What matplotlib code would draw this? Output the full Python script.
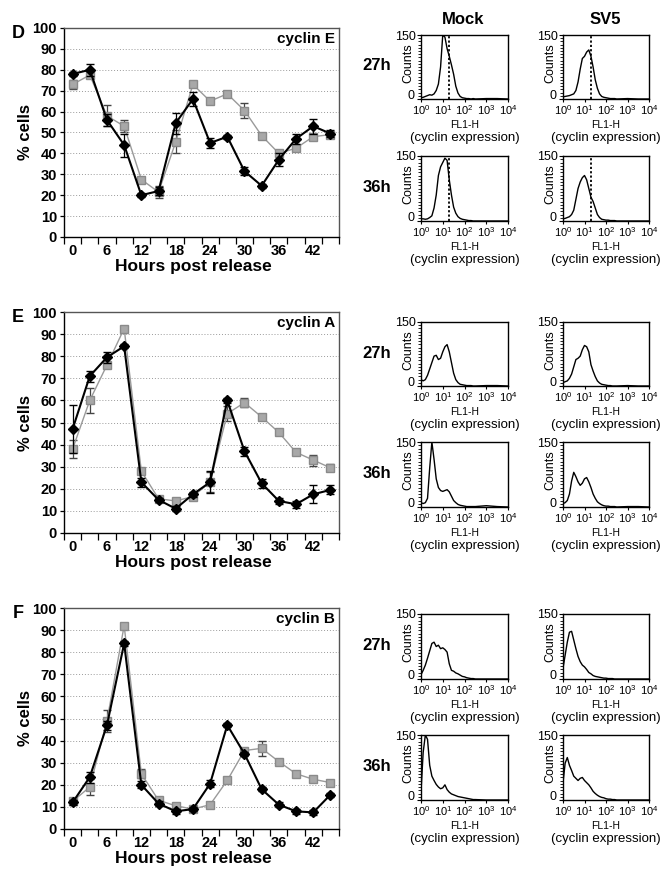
import matplotlib
matplotlib.use('Agg')
import matplotlib.pyplot as plt
import matplotlib.transforms as mtransforms
import numpy as np
from matplotlib.ticker import MultipleLocator, FixedLocator

plt.rcParams['font.family'] = ['Liberation Sans', 'DejaVu Sans']
plt.rcParams['mathtext.fontset'] = 'custom'
plt.rcParams['mathtext.rm'] = 'Liberation Sans'
plt.rcParams['mathtext.it'] = 'Liberation Sans:italic'
plt.rcParams['mathtext.bf'] = 'Liberation Sans:bold'

#########################################################################################################################
# time course data (% cells), black diamonds and grey squares
hours = [0, 3, 6, 9, 12, 15, 18, 21, 24, 27, 30, 33, 36, 39, 42, 45]

black_E = [78, 80, 56, 44, 20, 22, 54.5, 66, 45, 48, 31.5, 24.5, 37, 47, 53, 49.5]
black_E_err = [1, 3, 3, 5.5, 1, 2, 5, 3.5, 2.5, 1, 2, 1, 3, 2.5, 3.5, 1.5]
grey_E = [73, 77.5, 58, 53, 27.5, 21.5, 45.5, 73, 65, 68.5, 60.5, 48.5, 40, 42.5, 48, 49]
grey_E_err = [2, 1, 5, 3, 1, 3, 5.5, 1, 1.5, 1, 3.5, 1, 1, 1.5, 1, 1]

black_A = [47, 71, 79.5, 84.5, 23, 15, 11, 17.5, 23, 60, 37, 22.5, 14.5, 13, 17.5, 19.5]
black_A_err = [11, 2.5, 2.5, 1, 2, 1, 1, 1, 5, 1, 2, 2, 1.5, 1.5, 4, 2]
grey_A = [38, 60, 76, 92.5, 28, 15.5, 14.5, 16.5, 23, 54, 59, 52.5, 45.5, 36.5, 33, 29.5]
grey_A_err = [4, 5.5, 1.5, 1, 1.5, 1, 1, 1, 4.5, 3.5, 2, 1, 1, 1, 2.5, 1.5]

black_B = [12, 23.5, 47, 84, 20, 11.5, 8, 9, 20.5, 47, 34, 18, 11, 8, 7.5, 15.5]
black_B_err = [1, 2.5, 2, 1, 1.5, 1, 1, 1, 1.5, 1, 1, 1, 1, 1, 1, 1]
grey_B = [12.5, 19, 49, 92, 25, 13, 10.5, 9, 11, 22, 35.5, 36.5, 30.5, 25, 22.5, 21]
grey_B_err = [1, 3.5, 5, 1, 2, 1, 1, 1, 1, 1, 1, 3.5, 1, 1, 1, 1]

#########################################################################################################################
# flow histograms: counts read at these log10(FL1-H) positions
log_bins = [0.0, 0.1, 0.2, 0.3, 0.4, 0.5, 0.6, 0.7, 0.8, 0.9, 1.0, 1.1, 1.2, 1.3, 1.4,
            1.5, 1.6, 1.7, 1.8, 1.9, 2.0, 2.1, 2.2, 2.3, 2.4, 2.5, 3.0, 3.5, 4.0]

E_mock_27 = [3, 4, 6, 8, 10, 9, 12, 20, 35, 75, 150, 145, 118, 100, 80, 58, 30, 14, 6, 3, 2, 1, 1, 0, 1, 0, 1, 1, 0]
E_sv5_27 = [5, 6, 7, 8, 10, 12, 20, 40, 70, 95, 100, 110, 115, 100, 75, 45, 25, 12, 6, 4, 3, 2, 1, 1, 1, 0, 1, 0, 0]
E_mock_36 = [5, 5, 4, 5, 8, 12, 30, 60, 105, 125, 135, 145, 140, 95, 60, 32, 18, 10, 6, 4, 3, 2, 1, 1, 0, 0, 0, 0, 0]
E_sv5_36 = [5, 6, 8, 10, 15, 25, 50, 75, 90, 100, 105, 95, 75, 55, 45, 30, 15, 8, 4, 3, 2, 2, 1, 1, 1, 0, 0, 0, 0]

A_mock_27 = [15, 12, 15, 25, 40, 55, 70, 72, 62, 65, 80, 92, 97, 80, 55, 30, 15, 8, 4, 3, 2, 1, 1, 1, 0, 0, 1, 1, 0]
A_sv5_27 = [8, 10, 12, 18, 28, 45, 62, 65, 70, 85, 95, 92, 80, 50, 35, 22, 12, 7, 4, 3, 2, 1, 1, 0, 0, 0, 1, 0, 0]
A_mock_36 = [10, 8, 10, 20, 90, 150, 110, 65, 45, 38, 36, 38, 40, 35, 25, 15, 10, 6, 4, 3, 2, 1, 1, 1, 1, 1, 3, 1, 0]
A_sv5_36 = [8, 10, 15, 30, 60, 80, 70, 58, 50, 55, 65, 68, 58, 45, 30, 20, 12, 8, 5, 3, 2, 2, 1, 1, 1, 0, 1, 1, 0]

B_mock_27 = [10, 20, 32, 48, 65, 82, 85, 75, 78, 70, 72, 68, 62, 35, 20, 18, 14, 12, 9, 6, 5, 3, 2, 1, 1, 0, 0, 0, 0]
B_sv5_27 = [25, 55, 85, 108, 110, 90, 70, 52, 40, 32, 28, 22, 15, 12, 8, 6, 5, 4, 3, 2, 2, 1, 1, 1, 0, 0, 0, 0, 0]
B_mock_36 = [20, 110, 150, 140, 80, 55, 45, 36, 30, 26, 28, 35, 24, 18, 14, 12, 10, 8, 7, 6, 5, 4, 3, 2, 1, 1, 0, 0, 0]
B_sv5_36 = [40, 85, 98, 80, 68, 55, 50, 45, 50, 52, 45, 40, 35, 28, 20, 15, 11, 8, 6, 5, 3, 2, 2, 1, 1, 0, 0, 0, 0]

gate_log = 1.3   # dotted marker in the cyclin E histograms

#########################################################################################################################
W, H = 663, 873
fig = plt.figure(figsize=(W / 100, H / 100), dpi=100)
fig.patch.set_facecolor('white')


def add_box(l, t, r, b):
    # axes placed by pixel edges of the reference
    return fig.add_axes([l / W, 1 - b / H, (r - l) / W, (b - t) / H])


def ftext(x, y, s, **kw):
    fig.text(x / W, 1 - y / H, s, **kw)


panels = [
    ('D', 'cyclin E', 28, 237, black_E, black_E_err, grey_E, grey_E_err),
    ('E', 'cyclin A', 312, 533, black_A, black_A_err, grey_A, grey_A_err),
    ('F', 'cyclin B', 608, 829, black_B, black_B_err, grey_B, grey_B_err),
]

for letter, name, top, bot, blk, blk_err, gry, gry_err in panels:
    ax = add_box(64, top, 339, bot)
    ax.errorbar(hours, gry, yerr=gry_err, color='#9a9a9a', lw=1.0, marker='s', ms=6,
                mfc='#a8a8a8', mec='#8a8a8a', ecolor='#444444', elinewidth=0.9, capsize=3, zorder=3)
    ax.errorbar(hours, blk, yerr=blk_err, color='black', lw=1.5, marker='D', ms=5,
                mfc='black', mec='black', ecolor='black', elinewidth=0.9, capsize=3, zorder=4)
    ax.set_xlim(-1.5, 46.5)
    ax.set_ylim(0, 100)
    ax.set_yticks(range(0, 101, 10))
    ax.set_xticks(range(0, 43, 6))
    ax.xaxis.set_minor_locator(FixedLocator(np.arange(-1.5, 47, 3)))
    ax.tick_params(axis='x', which='major', length=0, pad=5, labelsize=10.5)
    ax.tick_params(axis='x', which='minor', length=5, width=0.9, direction='out')
    ax.tick_params(axis='y', length=3, width=0.9, labelsize=10.5, pad=2)
    for lab in ax.get_xticklabels() + ax.get_yticklabels():
        lab.set_fontweight('bold')
    ax.yaxis.grid(True, ls=(0, (1, 2)), color='#9a9a9a', lw=0.7)
    ax.set_axisbelow(True)
    for side in ['left', 'bottom']:
        ax.spines[side].set_color('black')
        ax.spines[side].set_linewidth(1.0)
    for side in ['top', 'right']:
        ax.spines[side].set_color('#555555')
        ax.spines[side].set_linewidth(1.0)
    ax.text(0.985, 1 - 11 / (bot - top), name, transform=ax.transAxes, ha='right', va='center',
            fontsize=11, fontweight='bold')
    ftext(18, top + 6, letter, fontsize=13, fontweight='bold', ha='center', va='center')
    ftext(25, (top + bot) / 2, '% cells', fontsize=12, fontweight='bold', rotation=90,
          ha='center', va='center')
    ftext(193, bot + 30, 'Hours post release', fontsize=12.5, fontweight='bold', ha='center', va='center')

#########################################################################################################################
hist_rows = [
    (35, 99, E_mock_27, E_sv5_27, True),
    (156, 221, E_mock_36, E_sv5_36, True),
    (322, 386, A_mock_27, A_sv5_27, False),
    (442, 507, A_mock_36, A_sv5_36, False),
    (614, 679, B_mock_27, B_sv5_27, False),
    (735, 800, B_mock_36, B_sv5_36, False),
]
row_names = ['27h', '36h', '27h', '36h', '27h', '36h']
col_edges = [(421, 508), (563, 649)]
fl = 10 ** np.array(log_bins)
# nudge for the "0" count label so it clears the 10^0 label in the corner
zero_shift = mtransforms.ScaledTranslation(-1 / 72, 3 / 72, fig.dpi_scale_trans)

for (top, bot, mock, sv5, gated), rname in zip(hist_rows, row_names):
    ftext(377, (top + bot) / 2 - 1, rname, fontsize=12, fontweight='bold', ha='center', va='center')
    for (l, r), counts in zip(col_edges, [mock, sv5]):
        ax = add_box(l, top, r, bot)
        ax.plot(fl, counts, color='black', lw=1.0)
        if gated:
            ax.axvline(10 ** gate_log, color='black', ls=(0, (1.2, 1.2)), lw=1.3)
        ax.set_xscale('log')
        ax.set_xlim(1, 1e4)
        ax.set_ylim(0, 150)
        ax.set_xticks([1, 10, 100, 1000, 10000])
        ax.set_xticklabels(['$10^{0}$', '$10^{1}$', '$10^{2}$', '$10^{3}$', '$10^{4}$'])
        ax.set_yticks([0, 150])
        ax.set_yticklabels(['0', '150'])
        ax.yaxis.set_minor_locator(MultipleLocator(7.5))
        ax.tick_params(axis='x', which='major', length=2.5, width=0.8, labelsize=8, pad=0.5)
        ax.tick_params(axis='x', which='minor', length=2, width=0.6)
        ax.tick_params(axis='y', which='major', length=3, width=0.8, labelsize=9, pad=1)
        ax.tick_params(axis='y', which='minor', length=2, width=0.6)
        zero_lab = ax.get_yticklabels()[0]
        zero_lab.set_transform(zero_lab.get_transform() + zero_shift)
        for sp in ax.spines.values():
            sp.set_linewidth(1.0)
        h = bot - top
        ax.text(-0.15, 0.56, 'Counts', transform=ax.transAxes, rotation=90, ha='center', va='center',
                fontsize=9)
        ax.text(0.5, -26 / h, 'FL1-H', transform=ax.transAxes, ha='center', va='center', fontsize=7.5)
        ax.text(0.5, -39 / h, '(cyclin expression)', transform=ax.transAxes, ha='center', va='center',
                fontsize=9.5)

ftext(463, 20, 'Mock', fontsize=12, fontweight='bold', ha='center', va='center')
ftext(605, 20, 'SV5', fontsize=12, fontweight='bold', ha='center', va='center')

fig.savefig('out.png', dpi=100)
